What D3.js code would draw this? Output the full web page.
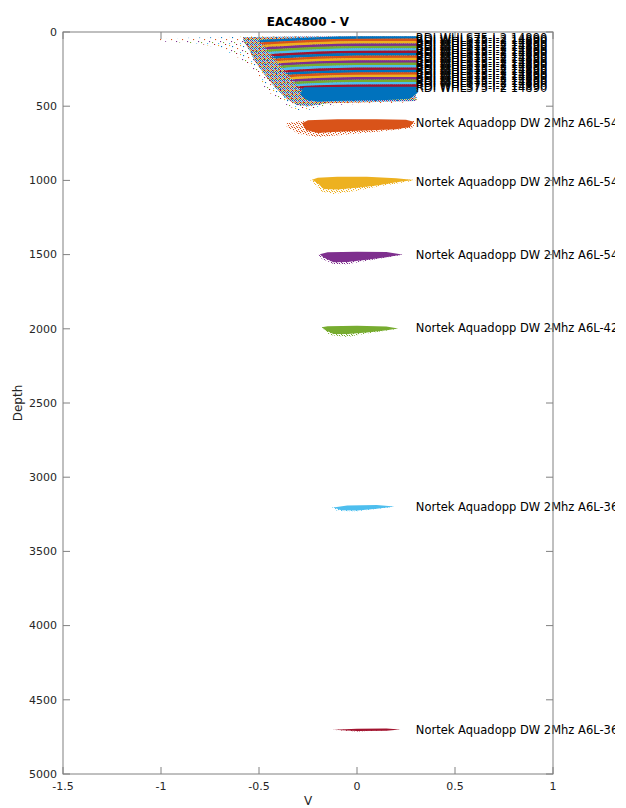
<!DOCTYPE html>
<html><head><meta charset="utf-8">
<script src="https://cdn.jsdelivr.net/npm/d3@7"></script>
<style>
html,body{margin:0;padding:0;background:#fff;}
svg{display:block;font-family:"DejaVu Sans",sans-serif;}
</style></head>
<body>
<svg id="chart" width="626" height="808"></svg>
<script>
// ---------------- data ----------------
const title = "EAC4800 - V";
const xLabel = "V";
const yLabel = "Depth";
const xTicks = [-1.5, -1, -0.5, 0, 0.5, 1];
const xTickLabels = ["-1.5", "-1", "-0.5", "0", "0.5", "1"];
const yTicks = [0, 500, 1000, 1500, 2000, 2500, 3000, 3500, 4000, 4500, 5000];
const yTickLabels = ["0", "500", "1000", "1500", "2000", "2500", "3000", "3500", "4000", "4500", "5000"];

const seriesColors = ["#0072BD", "#D95319", "#EDB120", "#7E2F8E", "#77AC30", "#4DBEEE", "#A2142F"];

// ADCP (RDI WHLS75) bins: centre depth, left V of the clear stripe, right V
const adcpBinDepths = [37, 53, 69, 86, 102, 118, 134, 150, 167, 183, 199, 215, 231, 248, 264, 280, 296, 312, 329, 345, 361, 377];
const adcpBinMinV = [-0.48, -0.47, -0.46, -0.45, -0.44, -0.43, -0.42, -0.41, -0.40, -0.39, -0.38, -0.37, -0.36, -0.35, -0.34, -0.33, -0.32, -0.31, -0.30, -0.29, -0.28, -0.27];
const adcpBinMaxV = [0.31, 0.31, 0.31, 0.31, 0.31, 0.31, 0.31, 0.31, 0.31, 0.31, 0.31, 0.31, 0.31, 0.31, 0.31, 0.31, 0.31, 0.31, 0.31, 0.31, 0.31, 0.30];
const adcpLabel = "RDI WHLS75-I-2 14890";
// knock-down of bins (extra depth) against velocity
const knockV = [-0.5, -0.4, -0.3, -0.2, -0.1, 0.0, 0.35];
const knockD = [26, 20, 13, 7, 3, 1, 0];
// bottom (deepest) bin body
const adcpBottomBody = [[-0.27, 372], [0.30, 372], [0.31, 410], [0.27, 450], [0.15, 458], [0.0, 462], [-0.12, 465], [-0.2, 470], [-0.26, 455], [-0.29, 420]];
// speckle envelopes of all ADCP bins
const adcpOuterFringe = [[-1.05, 52], [-0.95, 42], [-0.8, 37], [-0.6, 32], [-0.5, 29], [0.3, 29], [0.31, 470], [0.2, 478], [0.0, 485], [-0.15, 495], [-0.25, 525], [-0.3, 525], [-0.35, 500], [-0.42, 440], [-0.47, 380], [-0.5, 300], [-0.55, 230], [-0.62, 160], [-0.7, 110], [-0.8, 80], [-0.9, 70], [-1.0, 64], [-1.05, 57]];
const adcpInnerFringe = [[-0.58, 34], [-0.3, 30], [0.3, 30], [0.3, 465], [0.0, 475], [-0.15, 480], [-0.25, 500], [-0.31, 490], [-0.36, 450], [-0.42, 370], [-0.47, 290], [-0.52, 200], [-0.55, 120], [-0.58, 60]];

// Nortek Aquadopp current meters
const nortekLabels = ["Nortek Aquadopp DW 2Mhz A6L-54", "Nortek Aquadopp DW 2Mhz A6L-54", "Nortek Aquadopp DW 2Mhz A6L-54", "Nortek Aquadopp DW 2Mhz A6L-42", "Nortek Aquadopp DW 2Mhz A6L-36", "Nortek Aquadopp DW 2Mhz A6L-36"];
const nortekLabelDepths = [613, 1011, 1503, 1995, 3200, 4703];
const nortekColorIndex = [1, 2, 3, 4, 5, 6];
const nortekBodies = [
  [[-0.28, 615], [-0.25, 595], [-0.1, 588], [0.1, 588], [0.25, 592], [0.29, 605], [0.27, 640], [0.2, 655], [0.0, 665], [-0.1, 672], [-0.2, 680], [-0.26, 660]],
  [[-0.23, 995], [-0.2, 982], [-0.1, 976], [0.05, 975], [0.2, 985], [0.29, 998], [0.2, 1012], [0.1, 1035], [0.0, 1050], [-0.1, 1062], [-0.17, 1058], [-0.2, 1020]],
  [[-0.19, 1497], [-0.15, 1485], [0.0, 1480], [0.15, 1482], [0.23, 1500], [0.15, 1518], [0.05, 1535], [-0.05, 1550], [-0.12, 1552], [-0.17, 1520]],
  [[-0.18, 1990], [-0.15, 1982], [0.0, 1980], [0.15, 1985], [0.21, 1998], [0.15, 2010], [0.05, 2025], [-0.05, 2035], [-0.12, 2035], [-0.16, 2010]],
  [[-0.12, 3205], [-0.05, 3190], [0.1, 3188], [0.19, 3198], [0.1, 3212], [0.0, 3225], [-0.08, 3222]],
  [[-0.12, 4702], [0.0, 4695], [0.15, 4694], [0.22, 4700], [0.15, 4708], [0.0, 4711]]
];
const nortekFringes = [
  [[-0.36, 615], [-0.3, 602], [-0.2, 598], [0.29, 600], [0.3, 612], [0.28, 648], [0.1, 672], [-0.05, 690], [-0.2, 708], [-0.3, 685], [-0.36, 635]],
  [[-0.24, 998], [-0.15, 990], [0.29, 995], [0.3, 1000], [0.1, 1042], [0.0, 1070], [-0.12, 1092], [-0.18, 1075], [-0.22, 1020]],
  [[-0.2, 1497], [0.24, 1500], [0.05, 1542], [-0.05, 1565], [-0.12, 1563], [-0.18, 1528]],
  [[-0.18, 1990], [0.22, 1998], [0.05, 2032], [-0.05, 2055], [-0.14, 2042]],
  [[-0.13, 3205], [0.2, 3198], [0.0, 3230], [-0.1, 3227]],
  [[-0.13, 4702], [0.23, 4700], [0.0, 4713]]
];

// ---------------- layout ----------------
const svg = d3.select("#chart");
const margin = {left: 63, right: 73, top: 32, bottom: 34};
const W = 626, H = 808;
const x = d3.scaleLinear().domain([-1.5, 1]).range([margin.left, W - margin.right]);
const y = d3.scaleLinear().domain([0, 5000]).range([margin.top, H - margin.bottom]);
const knock = d3.scaleLinear().domain(knockV).range(knockD).clamp(true);
const axisColor = "#808080";
const textColor = "#262626";

// patterns for speckled (sparse) scatter regions
const defs = svg.append("defs");
function speckPattern(id, size, dots, s) {
  const p = defs.append("pattern").attr("id", id).attr("patternUnits", "userSpaceOnUse")
    .attr("width", size[0]).attr("height", size[1]);
  dots.forEach(d => p.append("rect").attr("x", d[0]).attr("y", d[1]).attr("width", s).attr("height", s).attr("fill", d[2]));
}
const C = seriesColors;
speckPattern("adcpSparse", [11, 9], [[1, 1, C[0]], [6, 3, C[1]], [3, 6, C[4]], [9, 7, C[5]], [9, 0, C[2]], [0, 5, C[3]], [5, 8, C[6]]], 1.1);
speckPattern("adcpDense", [4, 4], [[0, 0, C[0]], [2, 0, C[3]], [1, 1, C[5]], [3, 1, C[1]], [0, 2, C[6]], [2, 2, C[2]], [1, 3, C[4]], [3, 3, C[0]]], 1.3);
seriesColors.forEach((c, i) => speckPattern("speck" + i, [5, 4], [[0, 0, c], [3, 1, c], [1, 2, c], [4, 3, c], [2, 3, c]], 1.1));

const poly = d3.line().x(d => x(d[0])).y(d => y(d[1])).curve(d3.curveLinearClosed);

const data = svg.append("g");
// ADCP speckle envelope
data.append("path").attr("d", poly(adcpOuterFringe)).attr("fill", "url(#adcpSparse)");
data.append("path").attr("d", poly(adcpInnerFringe)).attr("fill", "url(#adcpDense)");
// ADCP bins as dense bands
adcpBinDepths.forEach((d, i) => {
  const vmin = adcpBinMinV[i], vmax = adcpBinMaxV[i];
  const vs = [vmin].concat(knockV.filter(v => v > vmin && v < vmax), [vmax]);
  const top = vs.map(v => [v, d - 9 + knock(v)]);
  const bot = vs.slice().reverse().map(v => [v, d + 9 + knock(v)]);
  const pts = [[vmin - 0.03, d + knock(vmin)]].concat(top, [[vmax + 0.01, d + knock(vmax)]], bot);
  data.append("path").attr("d", poly(pts)).attr("fill", seriesColors[i % 7]);
});
data.append("path").attr("d", poly(adcpBottomBody)).attr("fill", seriesColors[(adcpBinDepths.length - 1) % 7]);
// Nortek clouds
nortekBodies.forEach((b, i) => {
  const ci = nortekColorIndex[i];
  data.append("path").attr("d", poly(nortekFringes[i])).attr("fill", "url(#speck" + ci + ")");
  data.append("path").attr("d", poly(b)).attr("fill", seriesColors[ci]);
});

// ---------------- labels ----------------
defs.append("clipPath").attr("id", "figClip").append("rect").attr("x", 0).attr("y", 0).attr("width", 615).attr("height", H);
const lab = svg.append("g").attr("clip-path", "url(#figClip)")
  .attr("font-size", 11.5).attr("fill", "#000");
adcpBinDepths.forEach(d => {
  lab.append("text").attr("x", x(0.3)).attr("y", y(d)).attr("dy", "0.35em").text(adcpLabel);
});
nortekLabels.forEach((t, i) => {
  lab.append("text").attr("x", x(0.3)).attr("y", y(nortekLabelDepths[i])).attr("dy", "0.35em").text(t);
});

// ---------------- axes ----------------
const ax = svg.append("g").attr("fill", "none").attr("stroke", axisColor).attr("stroke-width", 1);
const L = x.range()[0], R = x.range()[1], T = y.range()[0], B = y.range()[1];
ax.append("rect").attr("x", L).attr("y", T).attr("width", R - L).attr("height", B - T);
const tl = 7;
xTicks.forEach(v => {
  ax.append("line").attr("x1", x(v)).attr("x2", x(v)).attr("y1", B).attr("y2", B - tl);
  ax.append("line").attr("x1", x(v)).attr("x2", x(v)).attr("y1", T).attr("y2", T + tl);
});
yTicks.forEach(v => {
  ax.append("line").attr("x1", L).attr("x2", L + tl).attr("y1", y(v)).attr("y2", y(v));
  ax.append("line").attr("x1", R).attr("x2", R - tl).attr("y1", y(v)).attr("y2", y(v));
});
const tx = svg.append("g").attr("font-size", 11).attr("fill", textColor);
xTicks.forEach((v, i) => {
  tx.append("text").attr("x", x(v)).attr("y", B + 16).attr("text-anchor", "middle").text(xTickLabels[i]);
});
yTicks.forEach((v, i) => {
  tx.append("text").attr("x", L - 6).attr("y", y(v)).attr("dy", "0.35em").attr("text-anchor", "end").text(yTickLabels[i]);
});
svg.append("text").attr("x", (L + R) / 2).attr("y", B + 31).attr("text-anchor", "middle")
  .attr("font-size", 12).attr("fill", textColor).text(xLabel);
svg.append("text").attr("transform", `translate(${22},${(T + B) / 2}) rotate(-90)`).attr("text-anchor", "middle")
  .attr("font-size", 12).attr("fill", textColor).text(yLabel);
svg.append("text").attr("x", (L + R) / 2).attr("y", T - 6).attr("text-anchor", "middle")
  .attr("font-size", 12).attr("font-weight", "bold").attr("fill", "#000").text(title);
</script>
</body></html>
